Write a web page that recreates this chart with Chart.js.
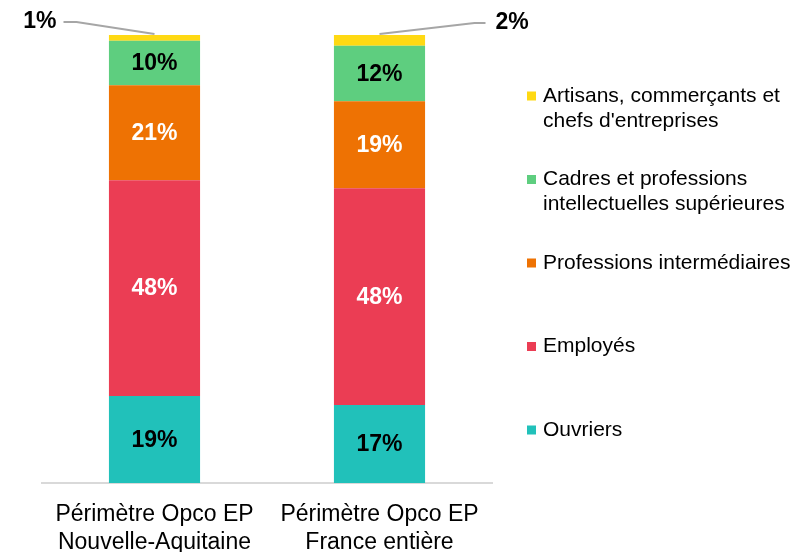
<!DOCTYPE html>
<html>
<head>
<meta charset="utf-8">
<script src="https://cdn.jsdelivr.net/npm/chart.js@4/dist/chart.umd.min.js"></script>
<style>
  html, body { margin: 0; padding: 0; background: #ffffff; }
  #wrap { width: 794px; height: 552px; position: relative; }
</style>
</head>
<body>
<div id="wrap"><canvas id="c" width="794" height="552"></canvas></div>
<script>
// ---- Data ----
const categories = [["Périmètre Opco EP", "Nouvelle-Aquitaine"], ["Périmètre Opco EP", "France entière"]];
const seriesNames = [
  "Ouvriers",
  "Employés",
  "Professions intermédiaires",
  "Cadres et professions\nintellectuelles supérieures",
  "Artisans, commerçants et\nchefs d'entreprises"
];
const ouvriers = [19.4, 17.4];
const employes = [48.2, 48.4];
const profInter = [21.2, 19.4];
const cadres = [9.9, 12.4];
const artisans = [1.3, 2.4];

const seriesValues = [ouvriers, employes, profInter, cadres, artisans];
const seriesColors = ["#21C1BA", "#EB3D54", "#EE7203", "#5ECE7F", "#FFD913"];
const labelColors = ["#000000", "#ffffff", "#ffffff", "#000000", "#000000"];

const FONT = "'Liberation Sans', Arial, sans-serif";

const valueLabels = {
  id: 'valueLabels',
  afterDatasetsDraw(chart, args, opts) {
    const ctx = chart.ctx;
    ctx.save();
    ctx.font = opts.font;
    chart.data.datasets.forEach((ds, i) => {
      const meta = chart.getDatasetMeta(i);
      meta.data.forEach((bar, j) => {
        const p = bar.getProps(['x', 'y', 'base'], true);
        const txt = Math.round(ds.data[j]) + '%';
        if (ds.callout) {
          const c = opts.callouts[j];
          ctx.strokeStyle = opts.lineColor;
          ctx.lineWidth = 1.8;
          ctx.beginPath();
          ctx.moveTo(p.x, p.y - 1);
          ctx.lineTo(p.x + c.elbowDx, p.y + c.dy);
          ctx.lineTo(p.x + c.endDx, p.y + c.dy);
          ctx.stroke();
          ctx.fillStyle = '#000000';
          ctx.textAlign = c.align;
          ctx.textBaseline = 'middle';
          ctx.fillText(txt, p.x + c.textDx, p.y + c.dy);
        } else {
          ctx.fillStyle = ds.labelColor;
          ctx.textAlign = 'center';
          ctx.textBaseline = 'middle';
          ctx.fillText(txt, p.x, (p.y + p.base) / 2 + 1);
        }
      });
    });
    ctx.restore();
  }
};

const sideLegend = {
  id: 'sideLegend',
  afterDraw(chart, args, opts) {
    const ctx = chart.ctx;
    ctx.save();
    ctx.font = opts.font;
    ctx.textBaseline = 'middle';
    ctx.textAlign = 'left';
    const n = chart.data.datasets.length;
    for (let k = 0; k < n; k++) {
      const ds = chart.data.datasets[n - 1 - k];
      const y = opts.top + k * opts.step;
      ctx.fillStyle = ds.backgroundColor;
      ctx.fillRect(opts.x, y - opts.box / 2, opts.box, opts.box);
      ctx.fillStyle = opts.color;
      ds.label.split('\n').forEach((line, j) => {
        ctx.fillText(line, opts.textX, y + j * opts.lineHeight);
      });
    }
    ctx.restore();
  }
};

const datasets = seriesNames.map((name, i) => ({
  label: name,
  data: seriesValues[i],
  backgroundColor: seriesColors[i],
  labelColor: labelColors[i],
  callout: i === seriesNames.length - 1,
  borderWidth: 0,
  categoryPercentage: 1.0,
  barPercentage: 0.405
}));

new Chart(document.getElementById('c'), {
  type: 'bar',
  data: { labels: categories, datasets },
  plugins: [valueLabels, sideLegend],
  options: {
    responsive: false,
    animation: false,
    devicePixelRatio: 1,
    layout: { padding: { left: 42, right: 302, top: 35, bottom: 0 } },
    scales: {
      x: {
        stacked: true,
        grid: { display: false, drawTicks: false },
        border: { display: true, color: '#d9d9d9', width: 2 },
        ticks: {
          color: '#000000',
          padding: 18,
          font: { family: FONT, size: 23, lineHeight: 1.22 }
        },
        afterFit(scale) { scale.height = 69; }
      },
      y: {
        stacked: true,
        display: false,
        min: 0,
        max: 100
      }
    },
    plugins: {
      legend: { display: false },
      title: { display: false },
      tooltip: { enabled: false },
      valueLabels: {
        font: 'bold 23px ' + FONT,
        lineColor: '#a6a6a6',
        callouts: [
          { elbowDx: -78, endDx: -91, dy: -13, textDx: -98, align: 'right' },
          { elbowDx: 95, endDx: 106, dy: -12, textDx: 116, align: 'left' }
        ]
      },
      sideLegend: {
        font: '21px ' + FONT,
        color: '#000000',
        x: 527,
        textX: 543,
        box: 9,
        top: 96,
        step: 83.5,
        lineHeight: 25
      }
    }
  }
});
</script>
</body>
</html>
